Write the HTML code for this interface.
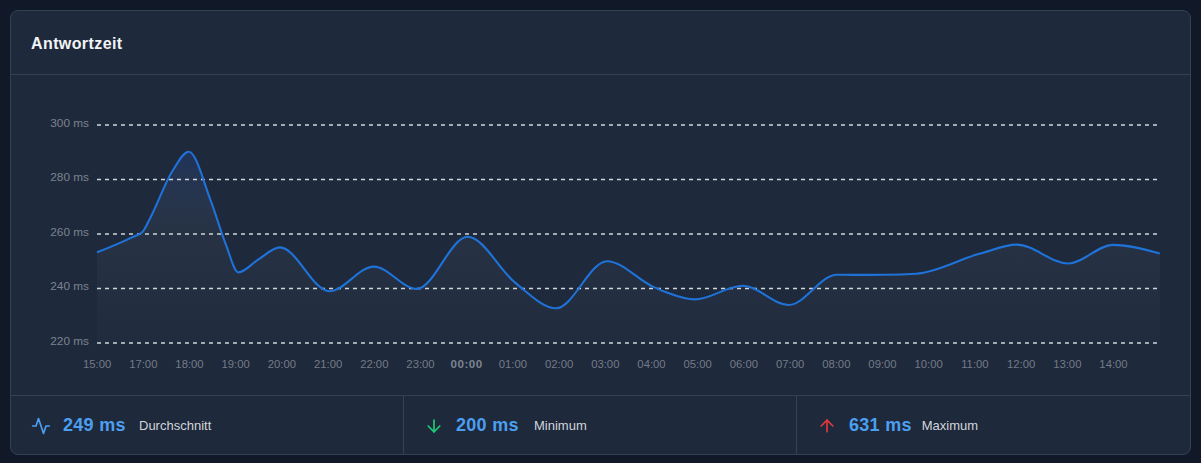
<!DOCTYPE html>
<html><head><meta charset="utf-8"><style>
html,body{margin:0;padding:0;}
body{width:1201px;height:463px;background:#111827;font-family:"Liberation Sans",sans-serif;overflow:hidden;position:relative;}
.card{position:absolute;left:10px;top:10px;width:1179px;height:443px;border:1px solid #334155;border-radius:8px;background:#1e293b;}
.hdr{position:absolute;left:0;top:0;width:1179px;height:63px;border-bottom:1px solid #334155;}
.title{position:absolute;left:20px;top:24px;font-size:16px;letter-spacing:0.4px;font-weight:bold;color:#f3f4f6;line-height:18px;white-space:nowrap;}
svg.chart{position:absolute;left:0;top:0;}
.ft{position:absolute;left:0;top:384px;width:1179px;height:59px;border-top:1px solid #334155;}
.col{position:absolute;top:0;height:59px;}
.col.b{border-left:1px solid #334155;}
.ic{position:absolute;left:20px;top:20px;width:20px;height:20px;}
.val{position:absolute;left:52px;top:18px;font-size:18px;letter-spacing:0.3px;font-weight:bold;color:#4c9ff0;white-space:nowrap;line-height:22px;}
.lab{position:absolute;top:21.5px;font-size:13px;color:#d1d5db;white-space:nowrap;line-height:16px;}
</style></head><body>
<div class="card">
  <div class="hdr"><div class="title">Antwortzeit</div></div>
  <div class="ft">
    <div class="col" style="left:0;width:392px;">
      <svg class="ic" viewBox="0 0 24 24" fill="none" stroke="#4c9ff0" stroke-width="2" stroke-linecap="round" stroke-linejoin="round"><polyline points="22 12 18 12 15 21 9 3 6 12 2 12"/></svg>
      <div class="val">249 ms</div><div class="lab" style="left:128px;">Durchschnitt</div>
    </div>
    <div class="col b" style="left:392px;width:392px;">
      <svg class="ic" viewBox="0 0 24 24" fill="none" stroke="#20c975" stroke-width="2" stroke-linecap="round" stroke-linejoin="round"><line x1="12" y1="5" x2="12" y2="19"/><polyline points="19 12 12 19 5 12"/></svg>
      <div class="val">200 ms</div><div class="lab" style="left:130px;">Minimum</div>
    </div>
    <div class="col b" style="left:785px;width:393px;">
      <svg class="ic" viewBox="0 0 24 24" fill="none" stroke="#e0393e" stroke-width="2" stroke-linecap="round" stroke-linejoin="round"><line x1="12" y1="19" x2="12" y2="5"/><polyline points="5 12 12 5 19 12"/></svg>
      <div class="val">631 ms</div><div class="lab" style="left:124.7px;">Maximum</div>
    </div>
  </div>
</div>
<svg class="chart" width="1201" height="463" viewBox="0 0 1201 463" style="z-index:2">
<defs><linearGradient id="fg" x1="0" y1="150" x2="0" y2="343" gradientUnits="userSpaceOnUse">
<stop offset="0" stop-color="#2563eb" stop-opacity="0.18"/>
<stop offset="0.45" stop-color="#94a3b8" stop-opacity="0.07"/>
<stop offset="1" stop-color="#94a3b8" stop-opacity="0.02"/>
</linearGradient></defs>
<path d="M97.00,252.40C108.67,247.76,120.33,243.13,132.00,237.40C135.47,235.70,138.93,235.63,142.40,232.10C145.27,229.18,148.13,221.88,151.00,216.40C158.00,203.01,165.00,183.06,172.00,171.80C177.60,162.79,183.20,151.70,188.80,151.70C196.10,151.70,203.40,181.45,210.70,200.60C215.80,213.98,220.90,232.00,226.00,244.90C230.10,255.27,234.20,272.40,238.30,272.40C245.03,272.40,251.77,263.36,258.50,259.30C265.63,254.99,272.77,247.40,279.90,247.40C296.37,247.40,312.83,291.20,329.30,291.20C344.17,291.20,359.03,266.60,373.90,266.60C388.17,266.60,402.43,288.90,416.70,288.90C433.67,288.90,450.63,236.80,467.60,236.80C482.83,236.80,498.07,267.76,513.30,281.00C515.80,283.17,518.30,285.38,520.80,287.40C532.50,296.85,544.20,308.30,555.90,308.30C572.93,308.30,589.97,261.20,607.00,261.20C622.27,261.20,637.53,279.69,652.80,286.60C657.30,288.64,661.80,290.65,666.30,292.30C675.77,295.77,685.23,299.40,694.70,299.40C710.73,299.40,726.77,285.80,742.80,285.80C758.10,285.80,773.40,305.00,788.70,305.00C804.73,305.00,820.77,274.70,836.80,274.70C841.87,274.70,846.93,274.90,852.00,274.90C863.03,274.90,874.07,274.87,885.10,274.80C895.47,274.74,905.83,274.43,916.20,273.70C937.27,272.21,958.33,259.53,979.40,253.80C991.83,250.42,1004.27,244.60,1016.70,244.60C1033.87,244.60,1051.03,263.50,1068.20,263.50C1083.13,263.50,1098.07,244.90,1113.00,244.90C1128.60,244.90,1144.20,249.15,1159.80,253.40L1159.8,343L97,343Z" fill="url(#fg)" stroke="none"/>
<g stroke="#d1d5db" stroke-width="1.3" stroke-dasharray="4 4"><line x1="97" y1="125" x2="1158" y2="125" /><line x1="97" y1="179.5" x2="1158" y2="179.5" /><line x1="97" y1="234" x2="1158" y2="234" /><line x1="97" y1="288.5" x2="1158" y2="288.5" /><line x1="97" y1="343" x2="1158" y2="343" /></g>
<path d="M97.00,252.40C108.67,247.76,120.33,243.13,132.00,237.40C135.47,235.70,138.93,235.63,142.40,232.10C145.27,229.18,148.13,221.88,151.00,216.40C158.00,203.01,165.00,183.06,172.00,171.80C177.60,162.79,183.20,151.70,188.80,151.70C196.10,151.70,203.40,181.45,210.70,200.60C215.80,213.98,220.90,232.00,226.00,244.90C230.10,255.27,234.20,272.40,238.30,272.40C245.03,272.40,251.77,263.36,258.50,259.30C265.63,254.99,272.77,247.40,279.90,247.40C296.37,247.40,312.83,291.20,329.30,291.20C344.17,291.20,359.03,266.60,373.90,266.60C388.17,266.60,402.43,288.90,416.70,288.90C433.67,288.90,450.63,236.80,467.60,236.80C482.83,236.80,498.07,267.76,513.30,281.00C515.80,283.17,518.30,285.38,520.80,287.40C532.50,296.85,544.20,308.30,555.90,308.30C572.93,308.30,589.97,261.20,607.00,261.20C622.27,261.20,637.53,279.69,652.80,286.60C657.30,288.64,661.80,290.65,666.30,292.30C675.77,295.77,685.23,299.40,694.70,299.40C710.73,299.40,726.77,285.80,742.80,285.80C758.10,285.80,773.40,305.00,788.70,305.00C804.73,305.00,820.77,274.70,836.80,274.70C841.87,274.70,846.93,274.90,852.00,274.90C863.03,274.90,874.07,274.87,885.10,274.80C895.47,274.74,905.83,274.43,916.20,273.70C937.27,272.21,958.33,259.53,979.40,253.80C991.83,250.42,1004.27,244.60,1016.70,244.60C1033.87,244.60,1051.03,263.50,1068.20,263.50C1083.13,263.50,1098.07,244.90,1113.00,244.90C1128.60,244.90,1144.20,249.15,1159.80,253.40" fill="none" stroke="#1f72d8" stroke-width="2.1" stroke-linejoin="round" stroke-linecap="butt"/>
<g font-family="Liberation Sans, sans-serif" font-size="11.3" fill="#747b88"><text x="89" y="126.7" text-anchor="end" font-size="11.8" fill="#7c8390">300 ms</text><text x="89" y="181.2" text-anchor="end" font-size="11.8" fill="#7c8390">280 ms</text><text x="89" y="235.7" text-anchor="end" font-size="11.8" fill="#7c8390">260 ms</text><text x="89" y="290.2" text-anchor="end" font-size="11.8" fill="#7c8390">240 ms</text><text x="89" y="344.7" text-anchor="end" font-size="11.8" fill="#7c8390">220 ms</text><text x="97.1" y="367.5" text-anchor="middle">15:00</text><text x="143.3" y="367.5" text-anchor="middle">17:00</text><text x="189.5" y="367.5" text-anchor="middle">18:00</text><text x="235.7" y="367.5" text-anchor="middle">19:00</text><text x="281.9" y="367.5" text-anchor="middle">20:00</text><text x="328.1" y="367.5" text-anchor="middle">21:00</text><text x="374.3" y="367.5" text-anchor="middle">22:00</text><text x="420.5" y="367.5" text-anchor="middle">23:00</text><text x="466.7" y="367.5" text-anchor="middle" font-weight="bold" fill="#7d8490" font-size="11.6" letter-spacing="0.5">00:00</text><text x="512.9" y="367.5" text-anchor="middle">01:00</text><text x="559.1" y="367.5" text-anchor="middle">02:00</text><text x="605.3" y="367.5" text-anchor="middle">03:00</text><text x="651.5" y="367.5" text-anchor="middle">04:00</text><text x="697.7" y="367.5" text-anchor="middle">05:00</text><text x="743.9" y="367.5" text-anchor="middle">06:00</text><text x="790.1" y="367.5" text-anchor="middle">07:00</text><text x="836.3" y="367.5" text-anchor="middle">08:00</text><text x="882.5" y="367.5" text-anchor="middle">09:00</text><text x="928.7" y="367.5" text-anchor="middle">10:00</text><text x="974.9" y="367.5" text-anchor="middle">11:00</text><text x="1021.1" y="367.5" text-anchor="middle">12:00</text><text x="1067.3" y="367.5" text-anchor="middle">13:00</text><text x="1113.5" y="367.5" text-anchor="middle">14:00</text></g>
</svg>
</body></html>
